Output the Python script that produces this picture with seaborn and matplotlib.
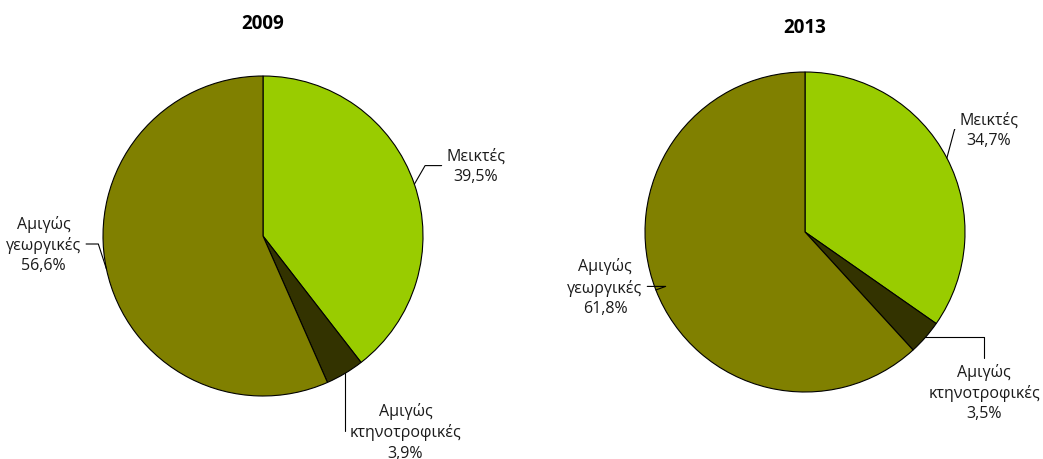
import numpy as np
import matplotlib
matplotlib.use("Agg")
import matplotlib.pyplot as plt
import seaborn as sns

# data
years = ["2009", "2013"]
categories = ["Μεικτές", "Αμιγώς\nκτηνοτροφικές", "Αμιγώς\nγεωργικές"]
values_2009 = [39.5, 3.9, 56.6]
values_2013 = [34.7, 3.5, 61.8]
pct_labels_2009 = ["39,5%", "3,9%", "56,6%"]
pct_labels_2013 = ["34,7%", "3,5%", "61,8%"]
colors = ["#99cc00", "#333300", "#808000"]

sns.set_theme(style="white")
plt.rcParams['font.family'] = ['Open Sans', 'DejaVu Sans']

fig = plt.figure(figsize=(10.43, 4.6), dpi=100)

# axes boxes (pixels): center x, center y from top, radius
boxes = [(263, 237, 160), (805, 233, 160)]
title_y = [1.33, 1.28]
# label placement in pie-radius units: text centre, relpos, connection angles
label_opts = {
    "2009": [((1.33, 0.44), (0.0, 0.5), 0, 60),
             ((0.89, -1.22), (0.0, 0.5), 0, 90),
             ((-1.37, -0.05), (1.0, 0.5), 0, 108)],
    "2013": [((1.15, 0.64), (0.0, 0.5), 0, 75),
             ((1.12, -1.0), (0.5, 1.0), 90, 0),
             ((-1.25, -0.34), (1.0, 0.5), 0, 20)],
}

for year, vals, pl, (cx, cy, r), ty0 in zip(years, [values_2009, values_2013],
                                            [pct_labels_2009, pct_labels_2013], boxes, title_y):
    ax = fig.add_axes([(cx - r) / 1043, (460 - cy - r) / 460, 2 * r / 1043, 2 * r / 460])
    wedges, _ = ax.pie(vals, colors=colors, startangle=90, counterclock=False,
                       radius=1, wedgeprops=dict(edgecolor="black", linewidth=0.8))
    ax.set_xlim(-1, 1)
    ax.set_ylim(-1, 1)
    ax.set_aspect("auto")
    ax.axis("off")
    ax.text(0, ty0, year, ha="center", va="center", fontsize=13.5,
            fontweight="bold", color="black", clip_on=False)
    for w, cat, p, ((tx, ty), rp, angA, angB) in zip(wedges, categories, pl, label_opts[year]):
        ang = np.deg2rad((w.theta1 + w.theta2) / 2)
        ex, ey = np.cos(ang), np.sin(ang)
        ax.annotate(f"{cat}\n{p}", xy=(ex, ey), xytext=(tx, ty),
                    ha="center", va="center", fontsize=11.5, color="#1a1a1a",
                    linespacing=1.35, annotation_clip=False,
                    arrowprops=dict(arrowstyle="-", color="black", lw=0.8,
                                    shrinkA=1, shrinkB=0, relpos=rp,
                                    connectionstyle=f"angle,angleA={angA},angleB={angB},rad=0"))

fig.savefig("out.png", dpi=100)
